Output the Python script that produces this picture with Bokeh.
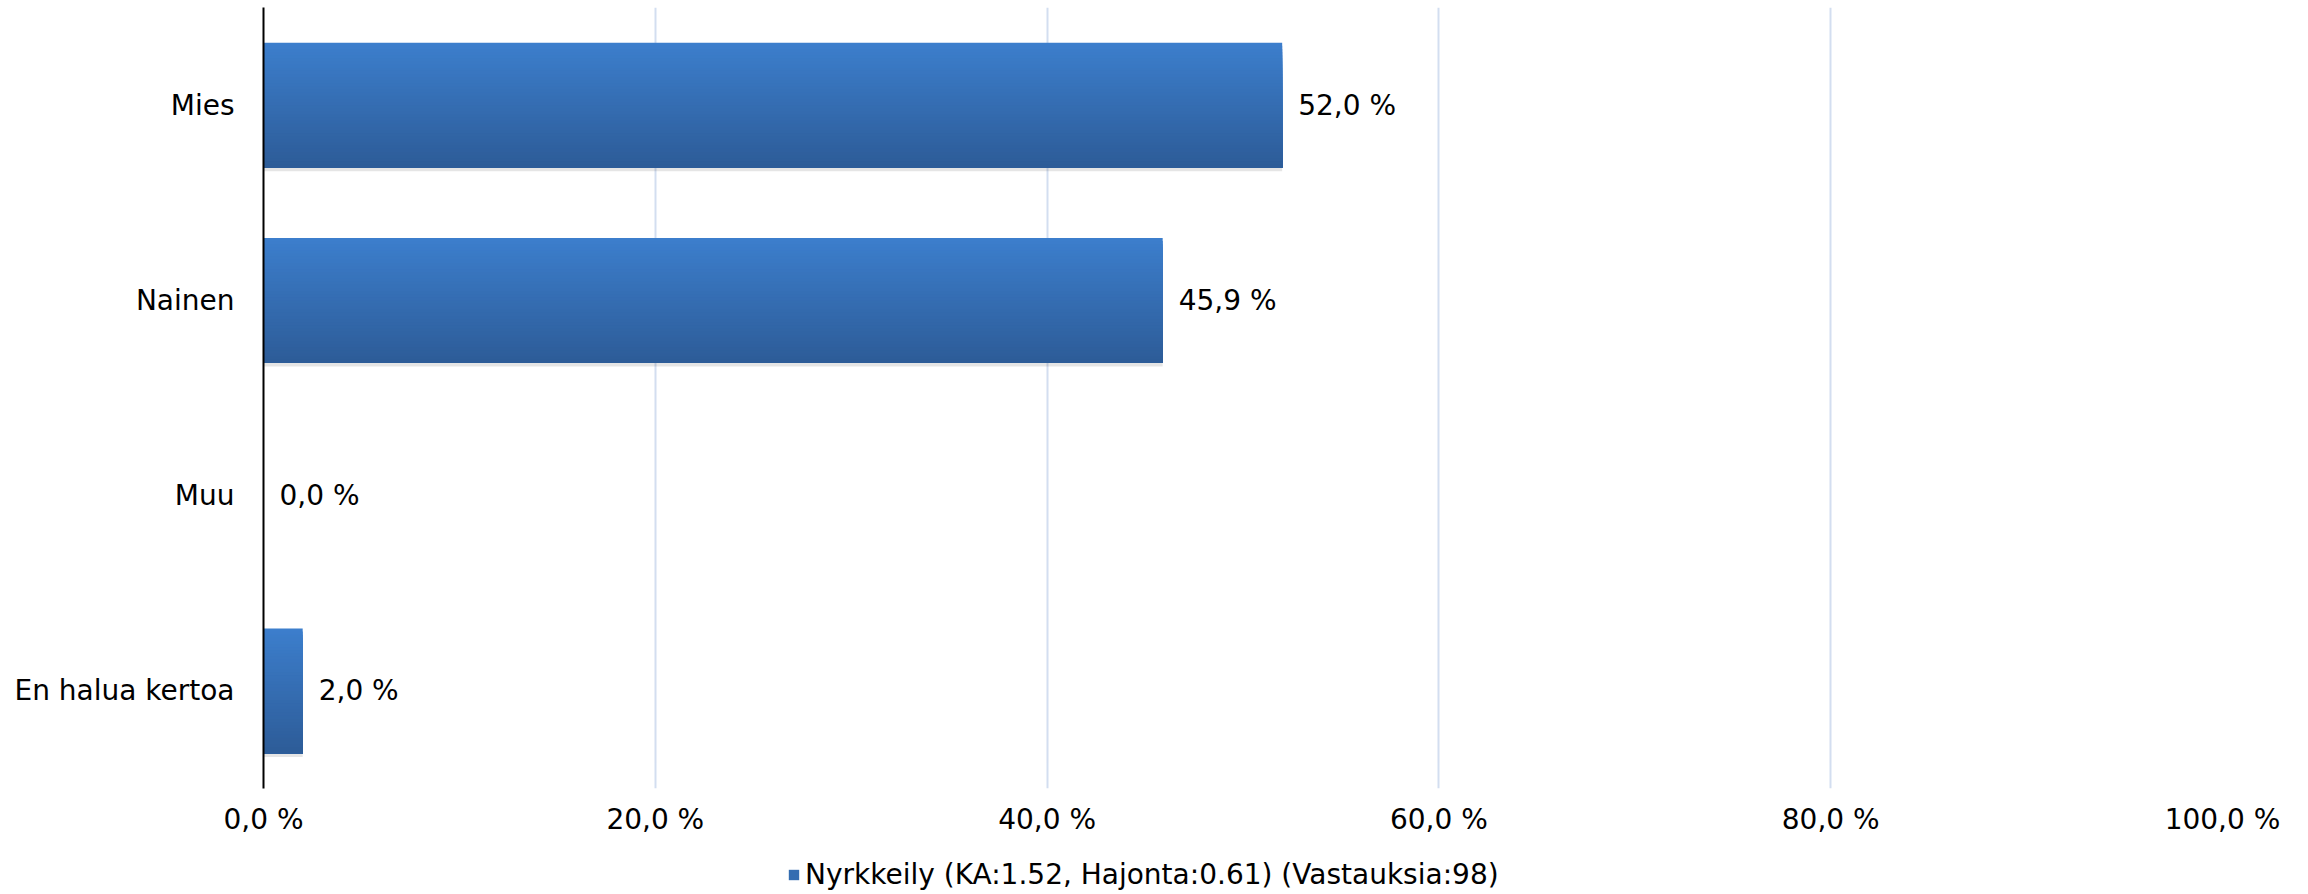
from bokeh.plotting import figure
from bokeh.layouts import column
from bokeh.models import ColumnDataSource, FactorRange, Range1d, FixedTicker, Legend, LegendItem
from bokeh.transform import dodge
from bokeh.embed import file_html
from bokeh.resources import INLINE
from bokeh.core.properties import value

# ---- data ----
categories = ["Mies", "Nainen", "Muu", "En halua kertoa"]
percentages = [52.0, 45.9, 0.0, 2.0]
tick_values = [0, 20, 40, 60, 80, 100]
tick_labels = ["0,0 %", "20,0 %", "40,0 %", "60,0 %", "80,0 %", "100,0 %"]
series_name = "Nyrkkeily (KA:1.52, Hajonta:0.61) (Vastauksia:98)"

value_labels = [f"{v:.1f}".replace(".", ",") + " %" for v in percentages]
src = ColumnDataSource(dict(cat=categories, val=percentages, lab=value_labels))

FONT = "DejaVu Sans"
FS = "28px"
TOTAL_W = 2300

p = figure(frame_width=1959, frame_height=781,
           y_range=FactorRange(*reversed(categories)),
           x_range=Range1d(0, 100),
           output_backend="svg", toolbar_location=None,
           min_border_left=263, min_border_right=TOTAL_W - 263 - 1959,
           min_border_top=7, min_border_bottom=60)
p.outline_line_color = None
p.background_fill_color = "white"

BAR_H = 0.64

# soft shadow under the bars
p.hbar(y=dodge("cat", -BAR_H / 2 - 0.008, range=p.y_range), right="val", left=0,
       height=0.022, source=src, fill_color="black", fill_alpha=0.10, line_color=None)

# gradient bars: nested slabs, each from its top edge to the bar bottom
N = 40
top = (60, 126, 204)
bot = (45, 92, 152)
step = BAR_H / N
colors = []
for i in range(N):
    t = i / (N - 1)
    c = tuple(int(round(top[k] + (bot[k] - top[k]) * t)) for k in range(3))
    color = "#%02x%02x%02x" % c
    colors.append(color)
    h = BAR_H - step * i
    off = -BAR_H / 2 + h / 2
    p.hbar(y=dodge("cat", off, range=p.y_range), right="val", left=0,
           height=h, source=src, fill_color=color, line_color=None)

# value labels
p.text(x="val", y="cat", text="lab", source=src, x_offset=16,
       text_baseline="middle", text_align="left",
       text_font=value(FONT), text_font_size=FS, text_color="black")

# axes
p.yaxis.axis_line_color = "black"
p.yaxis.axis_line_width = 2
p.yaxis.major_tick_line_color = None
p.yaxis.minor_tick_line_color = None
p.yaxis.major_label_standoff = 23
p.yaxis.major_label_text_font = FONT
p.yaxis.major_label_text_font_size = FS
p.yaxis.major_label_text_color = "black"

p.xaxis.ticker = FixedTicker(ticks=tick_values)
p.xaxis.major_label_overrides = {float(v): l for v, l in zip(tick_values, tick_labels)}
p.xaxis.axis_line_color = None
p.xaxis.major_tick_line_color = None
p.xaxis.minor_tick_line_color = None
p.xaxis.major_label_standoff = 8
p.xaxis.major_label_text_font = FONT
p.xaxis.major_label_text_font_size = FS
p.xaxis.major_label_text_color = "black"

p.ygrid.visible = False
p.xgrid.ticker = FixedTicker(ticks=tick_values[1:])
p.xgrid.grid_line_color = "#d3def0"
p.xgrid.grid_line_width = 2

# legend strip below the chart (its frame is aligned with the chart frame)
LEG_H = 46
pl = figure(width=TOTAL_W, height=LEG_H, output_backend="svg", toolbar_location=None,
            x_range=p.x_range, y_range=FactorRange(*reversed(categories)),
            min_border=0, min_border_left=0, min_border_right=0,
            min_border_top=0, min_border_bottom=0)
pl.axis.visible = False
pl.grid.visible = False
pl.outline_line_color = None
# zero-height bars: nothing visible in the strip, only serves the legend swatch
rl = pl.hbar(y="cat", right="val", left=0, height=0, source=src,
             fill_color=colors[N // 2], line_color=None)

legend = Legend(items=[LegendItem(label=series_name, renderers=[rl])],
                orientation="horizontal", location=(524, 3),
                border_line_color=None, background_fill_alpha=0,
                label_text_font=FONT, label_text_font_size=FS, label_text_color="black",
                glyph_width=13, glyph_height=13, label_standoff=5,
                padding=0, margin=0, spacing=0)
pl.add_layout(legend, "center")

layout = column(p, pl, spacing=0)
open("out.html", "w").write(file_html(layout, INLINE))
